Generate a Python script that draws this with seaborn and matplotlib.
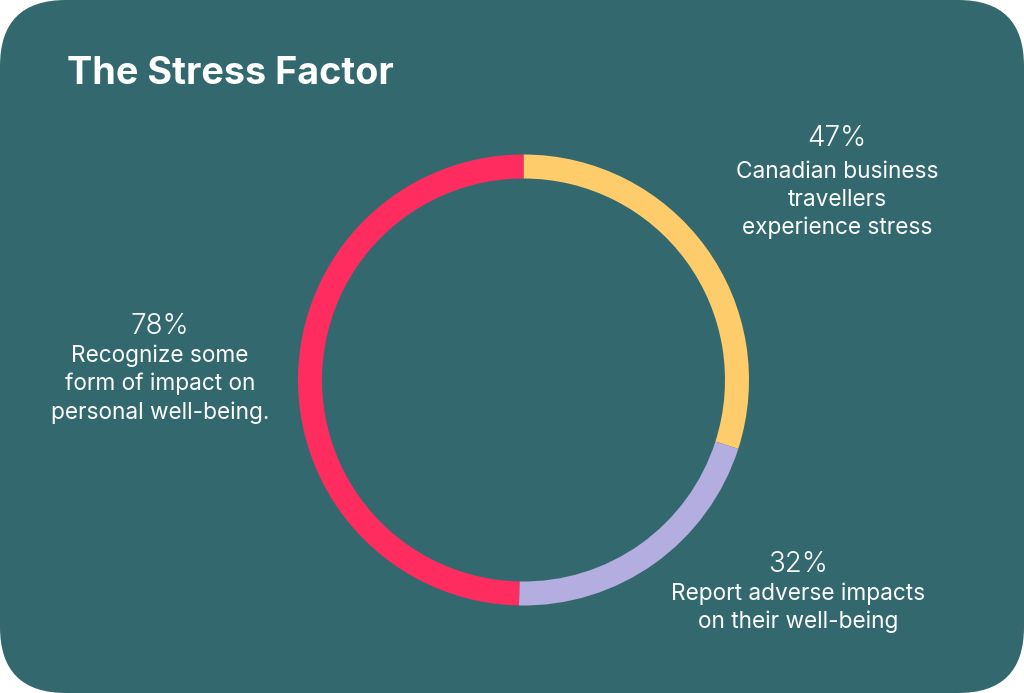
import numpy as np
import pandas as pd
import matplotlib.pyplot as plt
from matplotlib.patches import FancyBboxPatch
import seaborn as sns
sns.set_theme(style="white")
plt.rcParams['font.family'] = ['Inter', 'DejaVu Sans']

# Data
values = [47, 32, 78]
percent_labels = ['47%', '32%', '78%']
descriptions = [
    'Canadian business\ntravellers\nexperience stress',
    'Report adverse impacts\non their well-being',
    'Recognize some\nform of impact on\npersonal well-being.',
]
colors = ['#FFCC6B', '#B3ADE0', '#FF2D5F']
title = 'The Stress Factor'

bg = '#33696E'

fig = plt.figure(figsize=(10.24, 6.93), dpi=100)
fig.patch.set_facecolor('white')

# background card, in pixel units
ax_bg = fig.add_axes([0, 0, 1, 1])
ax_bg.set_xlim(0, 1024)
ax_bg.set_ylim(693, 0)
ax_bg.axis('off')
card = FancyBboxPatch((0, 0), 1024, 693, boxstyle='round,pad=0,rounding_size=66',
                      facecolor=bg, edgecolor='none')
ax_bg.add_patch(card)

ax_bg.text(67, 74, title, color='white', fontsize=27.2, fontweight='bold',
           ha='left', va='center')

# label blocks: (x, y of percent, y of description centre)
label_pos = [(837, 139, 200), (798, 564, 608), (160, 326, 384)]
for (x, yp, yd), pct, desc in zip(label_pos, percent_labels, descriptions):
    ax_bg.text(x, yp, pct, color='white', fontsize=20, fontweight=300,
               ha='center', va='center')
    ax_bg.text(x, yd, desc, color='white', fontsize=16.3, ha='center',
               va='center', linespacing=1.33)

# donut
cx, cy, r = 523.5, 380, 225.5
ax = fig.add_axes([(cx - r) / 1024, (693 - cy - r) / 693, 2 * r / 1024, 2 * r / 693])
ax.pie(values, colors=colors, startangle=90, counterclock=False,
       wedgeprops=dict(width=24 / r, edgecolor='none'), radius=1)
ax.set_xlim(-1, 1)
ax.set_ylim(-1, 1)
ax.axis('off')

fig.savefig('out.png', dpi=100, facecolor='white')
